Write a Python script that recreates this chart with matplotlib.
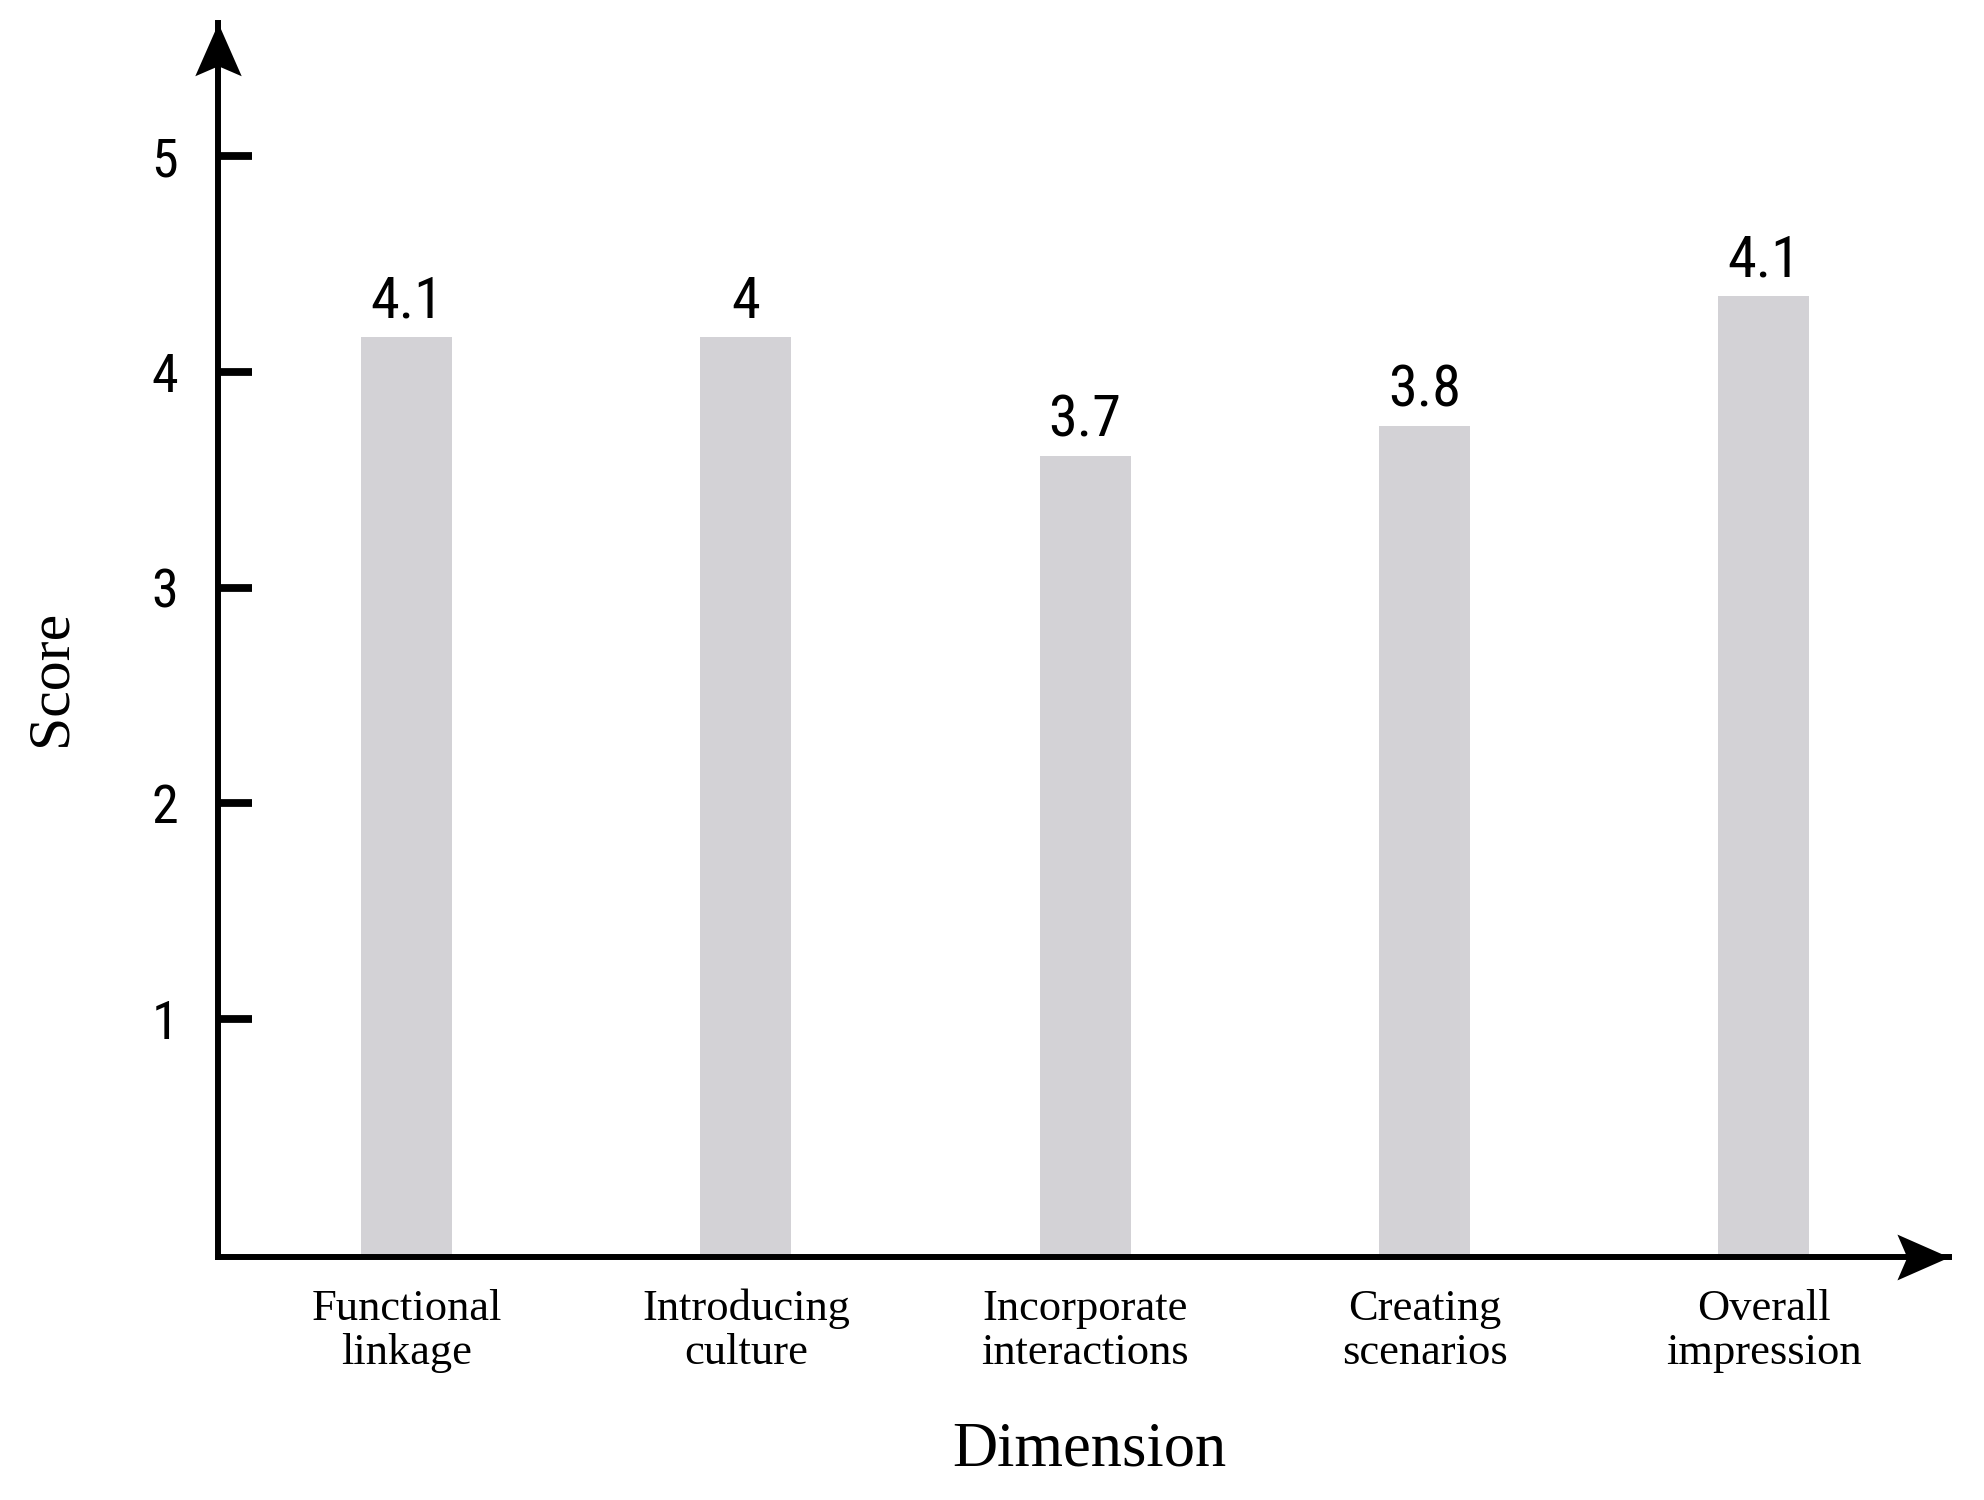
import matplotlib
matplotlib.use("Agg")
import matplotlib.pyplot as plt
from matplotlib import font_manager
from matplotlib.path import Path
from matplotlib.transforms import Affine2D

categories = ["Functional\nlinkage", "Introducing\nculture", "Incorporate\ninteractions",
              "Creating\nscenarios", "Overall\nimpression"]
bar_heights = [4.16, 4.16, 3.61, 3.75, 4.35]
bar_labels = ["4.1", "4", "3.7", "3.8", "4.1"]
y_ticks = [1, 2, 3, 4, 5]

BAR_COLOR = "#d3d2d6"
SERIF = "Liberation Serif"
LW = 4.3


def first_font(names):
    for name in names:
        try:
            font_manager.findfont(name, fallback_to_default=False)
            return name
        except ValueError:
            pass
    return "DejaVu Sans"


SANS = first_font(["Liberation Sans Narrow", "Roboto Condensed", "Lato"])

fig = plt.figure(figsize=(19.84, 15), dpi=100)
ax = fig.add_axes([0.1101, 0.162, 0.8722, 0.823])

x = list(range(len(categories)))
y0 = -0.104
ax.bar(x, [h - y0 for h in bar_heights], bottom=y0, width=0.268,
       color=BAR_COLOR, zorder=1)

for xi, h, lab in zip(x, bar_heights, bar_labels):
    ax.annotate(lab, (xi, h), xytext=(0, 14), textcoords="offset points",
                ha="center", va="baseline", fontsize=42, family=SANS)

ax.set_xlim(-0.554, 4.545)
ax.set_ylim(y0, 5.62)

for side in ("top", "right"):
    ax.spines[side].set_visible(False)
for side in ("left", "bottom"):
    ax.spines[side].set_linewidth(LW)
    ax.spines[side].set_zorder(3)

ax.set_yticks(y_ticks)
ax.set_yticklabels([str(t) for t in y_ticks], family=SANS, fontsize=39)
ax.tick_params(axis="y", direction="in", length=24.5, width=5.6, pad=29)

ax.set_xticks(x)
ax.set_xticklabels(categories, family=SERIF, fontsize=32, linespacing=1.12)
ax.tick_params(axis="x", length=0, pad=23)

# notched arrow heads at the ends of both axes
head = Path([(0, 0), (-1, 0.44), (-0.81, 0), (-1, -0.44), (0, 0)],
            [Path.MOVETO, Path.LINETO, Path.LINETO, Path.LINETO, Path.CLOSEPOLY])
ax.plot([1], [0], marker=head, markersize=75, color="black", markeredgewidth=0,
        transform=ax.transAxes, clip_on=False, zorder=4)
head_up = head.transformed(Affine2D().rotate_deg(90))
ax.plot([0], [1], marker=head_up, markersize=76, color="black", markeredgewidth=0,
        transform=ax.transAxes, clip_on=False, zorder=4)

fig.text(0.549, 0.033, "Dimension", ha="center", va="center",
         family=SERIF, fontsize=45)
fig.text(0.026, 0.548, "Score", ha="center", va="center", rotation=90,
         family=SERIF, fontsize=43)

fig.savefig("out.png", dpi=100)
